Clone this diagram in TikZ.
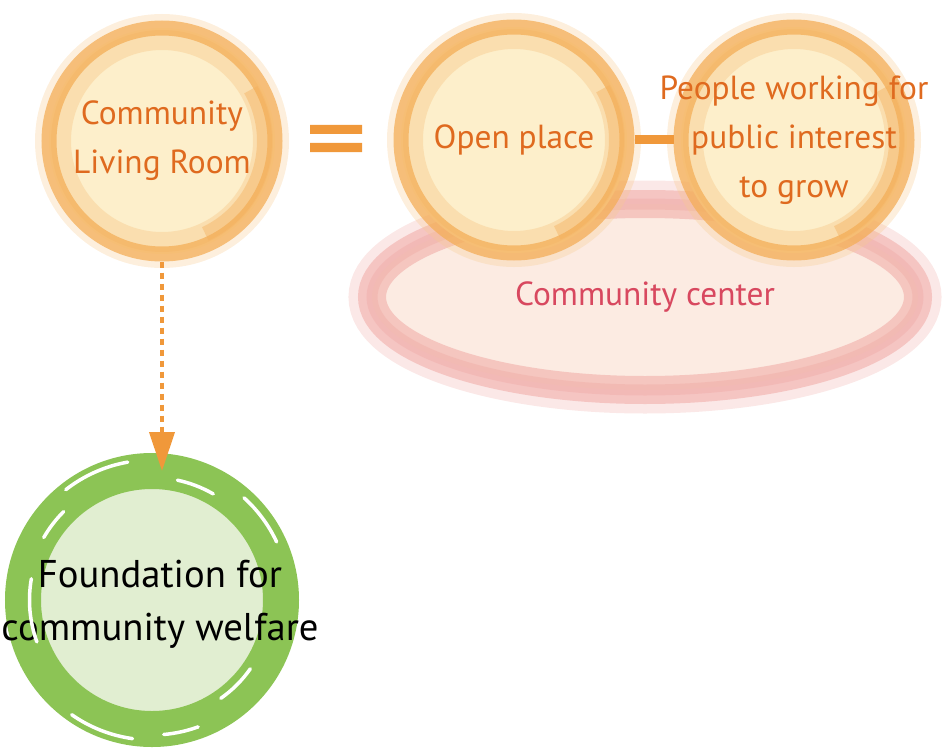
\documentclass[tikz,border=0pt]{standalone}
\usepackage{fontspec}
\setmainfont{PT Sans}
\usetikzlibrary{arrows.meta,shapes.geometric}

\definecolor{cream}{HTML}{FDEFCB}
\definecolor{ringorange}{HTML}{F4AE58}
\definecolor{hazeorange}{HTML}{F8CB8E}
\definecolor{textorange}{HTML}{DF6A1F}
\definecolor{barorange}{HTML}{F0983A}
\definecolor{pinkfill}{HTML}{FCEBE2}
\definecolor{pinkring}{HTML}{EFA29E}
\definecolor{pinkdark}{HTML}{EA8C86}
\definecolor{pinktext}{HTML}{D8485F}
\definecolor{leafgreen}{HTML}{8CC455}
\definecolor{palegreen}{HTML}{E1EED1}

\tikzset{
    bubtext/.style={text=textorange, align=center, font=\fontsize{19}{28}\selectfont},
    bubble/.style={circle, minimum size=4.52cm, fill=cream,
        draw=ringorange, line width=0.3cm, draw opacity=0.75,
        preaction={draw=hazeorange, line width=0.56cm, opacity=0.3},
        path picture={
            \draw[hazeorange, line width=0.4cm, opacity=0.45]
                (path picture bounding box.center) circle (2.02cm);
            \draw[ringorange, line width=0.3cm, opacity=0.4]
                ([shift={(-65:2.05)}]path picture bounding box.center)
                arc[start angle=-65, end angle=30, radius=2.05];
        },
        label={[bubtext]center:#1}},
    center/.style={ellipse, minimum width=10.92cm, minimum height=3.72cm,
        fill=pinkfill, draw=pinkring, line width=0.56cm, draw opacity=0.5,
        preaction={draw=pinkring, line width=0.94cm, opacity=0.25},
        postaction={draw=pinkdark, line width=0.22cm, opacity=0.2},
        text=pinktext, font=\fontsize{19}{28}\selectfont},
    found/.style={circle, minimum size=5.16cm, fill=palegreen,
        draw=leafgreen, line width=0.72cm},
    streak/.style={white, line width=0.07cm, line cap=round},
    link/.style={barorange, line width=0.18cm},
    flow/.style={barorange, line width=0.08cm, dash pattern=on 0.12cm off 0.1cm,
        -{Triangle[length=0.78cm, width=0.5cm]}, shorten >=-0.36cm},
}

\begin{document}
\begin{tikzpicture}
        \useasboundingbox (0,0) rectangle (18.88,14.94);
        \node[center](CC) at (12.90,9.00) {Community center};
        \node[bubble={Community\\Living Room}](LR) at (3.24,12.12) {};
        \node[bubble={Open place}](OP) at (10.28,12.14) {};
        \node[bubble={People working for\\public interest\\to grow}](PW) at (15.88,12.14) {};
        \node[found](FC) at (3.04,2.94) {};
        \node[font=\fontsize{22}{30}\selectfont, align=center](FT) at (3.20,2.86)
            {Foundation for\\community welfare};
        \fill[barorange] (6.20,12.26) rectangle (7.24,12.44)
                         (6.20,11.90) rectangle (7.24,12.08);
        \draw[streak]
            ([shift={(100:2.8)}]FC.center) arc[start angle=100, end angle=128, radius=2.8]
            ([shift={(135:2.5)}]FC.center) arc[start angle=135, end angle=150, radius=2.5]
            ([shift={(170:2.45)}]FC.center) arc[start angle=170, end angle=200, radius=2.45]
            ([shift={(235:2.8)}]FC.center) arc[start angle=235, end angle=262, radius=2.8]
            ([shift={(275:2.7)}]FC.center) arc[start angle=275, end angle=290, radius=2.7]
            ([shift={(305:2.4)}]FC.center) arc[start angle=305, end angle=325, radius=2.4]
            ([shift={(25:2.75)}]FC.center) arc[start angle=25, end angle=48, radius=2.75]
            ([shift={(60:2.45)}]FC.center) arc[start angle=60, end angle=78, radius=2.45];
        \path
            (OP) edge [link] (PW)
            (LR) edge [flow] (LR.south |- FC.north)
            ;
    \end{tikzpicture}
\end{document}
